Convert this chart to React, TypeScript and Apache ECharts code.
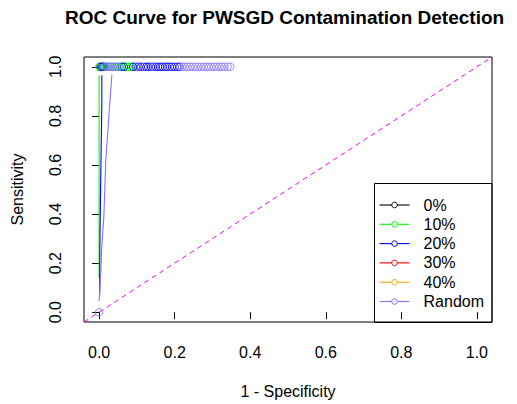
import React, { useEffect, useRef } from "react";
import * as echarts from "echarts";

const TITLE = "ROC Curve for PWSGD Contamination Detection";
const X_NAME = "1 - Specificity";
const Y_NAME = "Sensitivity";
const X_TICKS = [0, 0.2, 0.4, 0.6, 0.8, 1.0];
const Y_TICKS = [0, 0.2, 0.4, 0.6, 0.8, 1.0];

const NAMES = ["0%", "10%", "20%", "30%", "40%", "Random"];
const COLORS = ["#000000", "#00FF00", "#0000FF", "#FF0000", "#FFA500", "#8470FF"];

// ROC curve segments (FPR, TPR)
const CURVE_0: number[][] = [];
const CURVE_10 = [[0, 0.14], [0, 0.966]];
const CURVE_20 = [[0.0015, 0.07], [0.002, 0.27], [0.0045, 0.57], [0.0072, 0.85], [0.0072, 0.966]];
const CURVE_30: number[][] = [];
const CURVE_40: number[][] = [];
const CURVE_RANDOM = [
  [0, 0.046], [0.0045, 0.163], [0.0072, 0.269], [0.0125, 0.39], [0.0151, 0.5],
  [0.0178, 0.622], [0.0231, 0.735], [0.0284, 0.853], [0.0337, 0.966],
];

// Marked points (FPR, TPR)
const PTS_0: number[][] = [];
const PTS_10_FPR = [0, 0.003, 0.006, 0.01, 0.015, 0.02, 0.025, 0.03, 0.036, 0.042, 0.048, 0.055, 0.06, 0.065, 0.07, 0.075, 0.08, 0.085, 0.09];
const PTS_20_FPR = [0.004, 0.008, 0.012, 0.06, 0.066, 0.09, 0.097, 0.104, 0.11, 0.118, 0.125, 0.13, 0.137, 0.143, 0.15, 0.156, 0.162, 0.168, 0.175, 0.18, 0.187, 0.193, 0.2, 0.207, 0.213];
const PTS_30: number[][] = [];
const PTS_40: number[][] = [];
const PTS_RANDOM_FPR = [0.016, 0.021, 0.026, 0.031, 0.036, 0.041, 0.046, 0.052, 0.1, 0.14, 0.22, 0.227, 0.234, 0.241, 0.248, 0.255, 0.262, 0.27, 0.277, 0.284, 0.29, 0.297, 0.304, 0.311, 0.318, 0.325, 0.332, 0.34, 0.347];
const PTS_RANDOM_ORIGIN = [[0, 0]];
const PTS_TPR = 1;

const DIAGONAL = [[-0.04, -0.04], [1.04, 1.04]];

const FONT = "'Liberation Sans', Arial, Helvetica, sans-serif";

export default function App() {
  const ref = useRef<HTMLDivElement>(null);
  useEffect(() => {
    if (!ref.current) return;
    const chart = echarts.init(ref.current, undefined, { renderer: "svg" });
    const curves = [CURVE_0, CURVE_10, CURVE_20, CURVE_30, CURVE_40, CURVE_RANDOM];
    const toPts = (f: number[]) => f.map((x) => [x, PTS_TPR]);
    const points = [
      PTS_0,
      toPts(PTS_10_FPR),
      toPts(PTS_20_FPR),
      PTS_30,
      PTS_40,
      [...PTS_RANDOM_ORIGIN, ...toPts(PTS_RANDOM_FPR)],
    ];
    const series: any[] = [];
    NAMES.forEach((name, i) => {
      series.push({
        type: "line",
        name,
        data: curves[i],
        symbol: "circle",
        symbolSize: 6,
        showSymbol: false,
        lineStyle: { color: COLORS[i], width: 1.1 },
        itemStyle: { color: "#fff", borderColor: COLORS[i], borderWidth: 1 },
        z: 2 + i,
      });
    });
    NAMES.forEach((name, i) => {
      series.push({
        type: "scatter",
        name,
        data: points[i],
        symbol: "circle",
        symbolSize: 7.5,
        itemStyle: { color: "rgba(0,0,0,0)", borderColor: COLORS[i], borderWidth: 1 },
        z: 2 + i,
      });
    });
    series.push({
      type: "line",
      name: "diag",
      data: DIAGONAL,
      showSymbol: false,
      symbol: "none",
      lineStyle: { color: "#FF00FF", width: 1, type: [5, 4] },
      z: 1,
    });

    const axisCommon = {
      type: "value",
      min: -0.04,
      max: 1.04,
      nameLocation: "middle",
      nameTextStyle: { fontFamily: FONT, fontSize: 16, color: "#000" },
      axisLine: { show: false },
      axisTick: { show: true, length: 7, lineStyle: { color: "#000" } },
      splitLine: { show: false },
    };

    chart.setOption({
      animation: false,
      backgroundColor: "#fff",
      title: {
        text: TITLE,
        left: 65,
        top: 8,
        padding: 0,
        textStyle: { fontFamily: FONT, fontSize: 19, fontWeight: "bold", color: "#000" },
      },
      grid: { left: 84, right: 25, top: 57, bottom: 81, show: true, borderColor: "#000", borderWidth: 1, containLabel: false },
      legend: {
        data: NAMES,
        orient: "vertical",
        left: 379,
        top: 197,
        padding: 0,
        itemWidth: 30,
        itemHeight: 7,
        itemGap: 3.3,
        lineStyle: { width: 1.1 },
        itemStyle: { borderWidth: 1 },
        textStyle: { fontFamily: FONT, fontSize: 16, color: "#000", padding: [0, 0, 0, 9] },
      },
      graphic: [
        {
          type: "rect",
          shape: { x: 374.5, y: 183.5, width: 117.5, height: 139 },
          style: { fill: "none", stroke: "#000", lineWidth: 1 },
          z: 100,
        },
      ],
      xAxis: {
        ...axisCommon,
        name: X_NAME,
        nameGap: 61,
        axisTick: { ...axisCommon.axisTick, customValues: X_TICKS },
        axisLabel: {
          customValues: X_TICKS,
          margin: 22,
          fontFamily: FONT,
          fontSize: 16,
          color: "#000",
          formatter: (v: number) => v.toFixed(1),
        },
      },
      yAxis: {
        ...axisCommon,
        name: Y_NAME,
        nameGap: 59,
        axisTick: { ...axisCommon.axisTick, customValues: Y_TICKS },
        axisLabel: {
          customValues: Y_TICKS,
          margin: 21,
          rotate: 90,
          fontFamily: FONT,
          fontSize: 16,
          color: "#000",
          formatter: (v: number) => v.toFixed(1),
        },
      },
      series,
    });
    return () => chart.dispose();
  }, []);
  return <div ref={ref} style={{ width: 517, height: 404, position: "absolute", left: 0, top: 0 }} />;
}
